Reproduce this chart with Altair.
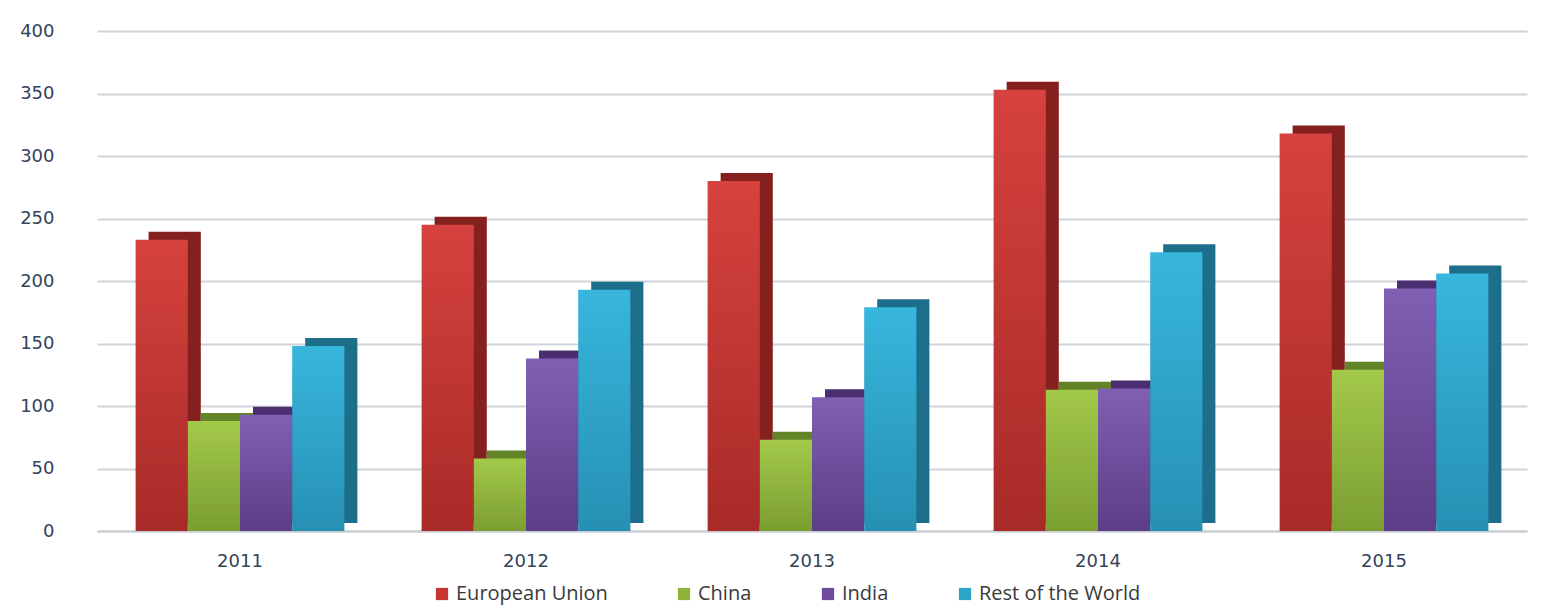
import altair as alt
import pandas as pd

years = ["2011", "2012", "2013", "2014", "2015"]
series = ["European Union", "China", "India", "Rest of the World"]
eu = [233, 245, 280, 353, 318]
china = [88, 58, 73, 113, 129]
india = [93, 138, 107, 114, 194]
row = [148, 193, 179, 223, 206]

front_colors = ["#c93532", "#8fb43c", "#6f4d9c", "#2ea4c9"]
grad_top = ["#d6423d", "#a3c94a", "#8060b3", "#38b6dc"]
grad_bottom = ["#a82a28", "#7b9e32", "#5c3d86", "#2690b4"]
side_colors = ["#84211f", "#628326", "#4a2e70", "#1d6e8b"]

rows = []
for s, vals in zip(series, [eu, china, india, row]):
    for y, v in zip(years, vals):
        rows.append({"Year": y, "Series": s, "Value": v,
                     "Side": side_colors[series.index(s)]})
df = pd.DataFrame(rows)

W, H = 1430, 500
PAD_IN, PAD_OUT = 0.27, 0.135
band = W / (len(years) - PAD_IN + 2 * PAD_OUT) * (1 - PAD_IN)
DEPTH_X, DEPTH_Y = 13, 8

x_enc = alt.X("Year:N", sort=years, title=None,
              scale=alt.Scale(paddingInner=PAD_IN, paddingOuter=PAD_OUT),
              axis=alt.Axis(labelAngle=0, labelFont="DejaVu Sans", labelFontSize=18,
                            labelColor="#33435a", labelPadding=21, ticks=False,
                            domain=True, domainColor="#c9cdd2", domainWidth=2))
y_enc = alt.Y("Value:Q", title=None,
              scale=alt.Scale(domain=[0, 400]),
              axis=alt.Axis(values=[0, 50, 100, 150, 200, 250, 300, 350, 400],
                            labelFont="DejaVu Sans", labelFontSize=18,
                            labelColor="#33435a", labelPadding=43, ticks=False,
                            domain=False, gridColor="#cfd4d9", gridWidth=2))
front_off = alt.XOffset("Series:N", sort=series,
                        scale=alt.Scale(domain=series, paddingInner=0, paddingOuter=0))

side = alt.Chart(df).mark_bar(yOffset=-DEPTH_Y).encode(
    x=x_enc,
    xOffset=alt.XOffset("Series:N", sort=series,
                        scale=alt.Scale(domain=series, paddingInner=0, paddingOuter=0,
                                        range=[DEPTH_X, DEPTH_X + band])),
    y=y_enc,
    color=alt.Color("Side:N", scale=None, legend=None),
)

fronts = []
for i, s in enumerate(series):
    fronts.append(
        alt.Chart(df).transform_filter(alt.datum.Series == s).mark_bar(
            color=alt.Gradient(gradient="linear", x1=0, y1=0, x2=0, y2=1,
                               stops=[alt.GradientStop(color=grad_top[i], offset=0),
                                      alt.GradientStop(color=grad_bottom[i], offset=1)])
        ).encode(x=x_enc, xOffset=front_off, y=y_enc)
    )

legend_layer = alt.Chart(df).mark_square(opacity=0).encode(
    x=x_enc, xOffset=front_off, y=y_enc,
    color=alt.Color("Series:N", sort=series, title=None,
                    scale=alt.Scale(domain=series, range=front_colors),
                    legend=alt.Legend(orient="none", direction="horizontal",
                                      legendX=335, legendY=553,
                                      symbolType="square", symbolSize=150,
                                      symbolOpacity=1, symbolStrokeWidth=0,
                                      labelFont="Open Sans", labelFontSize=20,
                                      labelLimit=400,
                                      labelColor="#3a3a3a", columnPadding=66)),
)

chart = alt.layer(side, *fronts, legend_layer).resolve_scale(
    color="independent", xOffset="independent"
).properties(
    width=W, height=H,
    padding={"left": 11, "top": 14, "right": 5, "bottom": 3},
).configure_view(stroke=None)

chart.save("out.html", embed_options={"renderer": "svg", "actions": False})
